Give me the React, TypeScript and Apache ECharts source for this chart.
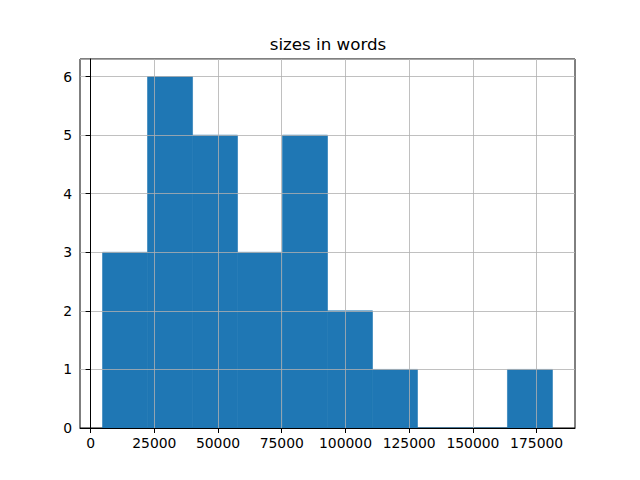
import React, { useEffect, useRef } from "react";
import * as echarts from "echarts";

const binEdges = [4700, 22350, 40000, 57650, 75300, 92950, 110600, 128250, 145900, 163550, 181200];
const counts = [3, 6, 5, 3, 5, 2, 1, 0, 0, 1];
const xTicks = [0, 25000, 50000, 75000, 100000, 125000, 150000, 175000];
const title = "sizes in words";

export default function App() {
  const ref = useRef<HTMLDivElement>(null);
  useEffect(() => {
    document.body.style.margin = "0";
    const chart = echarts.init(ref.current!, null, { renderer: "svg" });
    const data = counts.map((c, i) => [binEdges[i], binEdges[i + 1], c]);
    const font = "DejaVu Sans";
    chart.setOption({
      animation: false,
      title: {
        text: title,
        left: 323,
        textAlign: "center",
        top: 30,
        textStyle: { fontFamily: font, fontSize: 16.7, fontWeight: "normal", color: "#000" },
      },
      grid: {
        left: 80,
        top: 59,
        width: 495,
        height: 369,
        show: true,
        borderColor: "#000",
        borderWidth: 1,
        backgroundColor: "transparent",
      },
      xAxis: {
        type: "value",
        min: -4150,
        max: 190050,
        z: 5,
        axisLine: { show: true, onZero: false, lineStyle: { color: "#000", width: 1 } },
        axisTick: { show: true, length: 5, customValues: xTicks, lineStyle: { color: "#000" } },
        axisLabel: {
          customValues: xTicks,
          margin: 8,
          fontFamily: font,
          fontSize: 13.9,
          color: "#000",
          formatter: (v: number) => String(v),
        },
        splitLine: { show: true, lineStyle: { color: "#b0b0b0", width: 0.8 } },
      },
      yAxis: {
        type: "value",
        min: 0,
        max: 6.3,
        interval: 1,
        z: 5,
        axisLine: { show: true, lineStyle: { color: "#000", width: 1 } },
        axisTick: { show: true, length: 5, lineStyle: { color: "#000" } },
        axisLabel: {
          margin: 8,
          fontFamily: font,
          fontSize: 13.9,
          color: "#000",
          showMaxLabel: false,
          formatter: (v: number) => String(v),
        },
        splitLine: { show: true, lineStyle: { color: "#b0b0b0", width: 0.8 } },
      },
      series: [
        {
          type: "custom",
          z: 1,
          data,
          encode: { x: [0, 1], y: 2 },
          renderItem: (params: any, api: any) => {
            const p0 = api.coord([api.value(0), 0]);
            const p1 = api.coord([api.value(1), api.value(2)]);
            return {
              type: "rect",
              shape: { x: p0[0], y: p1[1], width: p1[0] - p0[0], height: p0[1] - p1[1] },
              style: { fill: "#1f77b4", stroke: "#1f77b4", lineWidth: 0.6 },
            };
          },
        },
      ],
    });
    return () => chart.dispose();
  }, []);
  return <div ref={ref} style={{ width: 640, height: 480 }} />;
}
